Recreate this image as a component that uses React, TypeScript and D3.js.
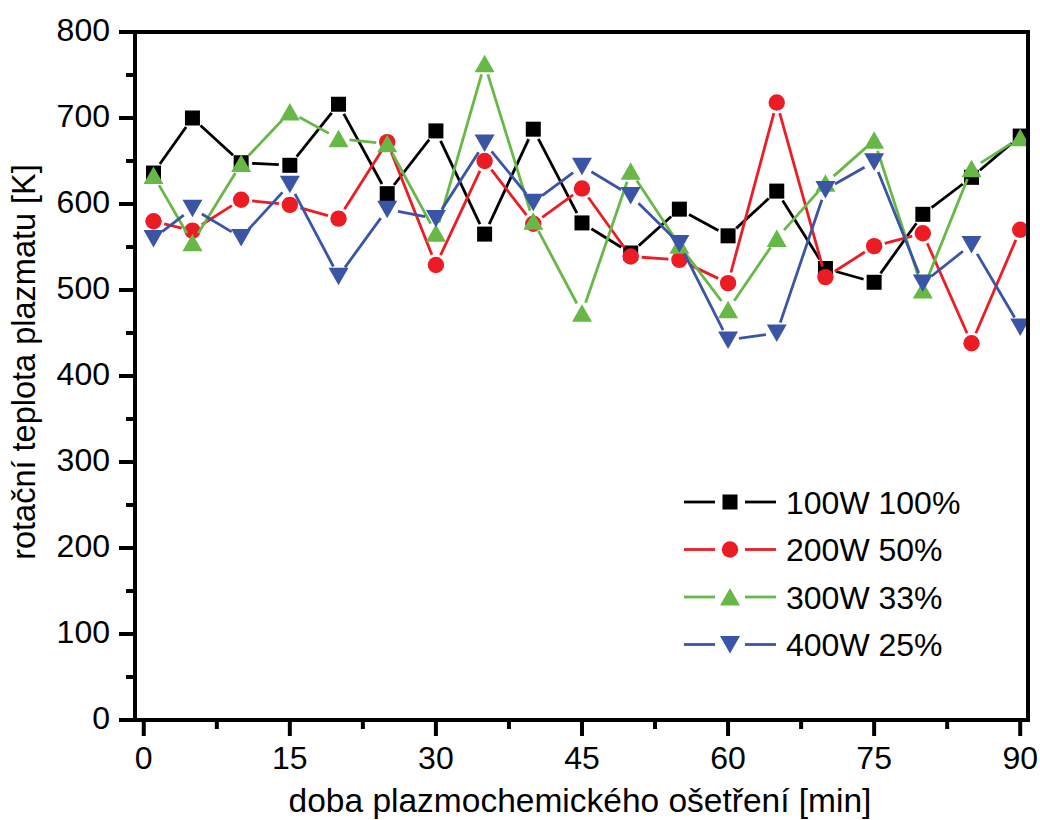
import React from "react";
import * as d3 from "d3";

const times = [1, 5, 10, 15, 20, 25, 30, 35, 40, 45, 50, 55, 60, 65, 70, 75, 80, 85, 90];
const s100W = [636, 700, 648, 645, 716, 612, 685, 565, 687, 578, 543, 594, 563, 615, 525, 509, 588, 631, 679];
const s200W = [580, 569, 605, 599, 583, 672, 529, 650, 577, 618, 539, 535, 508, 718, 515, 551, 566, 438, 570];
const s300W = [633, 555, 647, 707, 676, 670, 566, 763, 580, 473, 638, 552, 477, 560, 624, 674, 500, 641, 677];
const s400W = [560, 595, 561, 623, 516, 594, 583, 671, 602, 644, 610, 554, 442, 450, 617, 649, 508, 553, 457];
const seriesNames = ["100W 100%", "200W 50%", "300W 33%", "400W 25%"];
const xTicks = [0, 15, 30, 45, 60, 75, 90];
const xMinor = [7.5, 22.5, 37.5, 52.5, 67.5, 82.5];
const yTicks = [0, 100, 200, 300, 400, 500, 600, 700, 800];
const yMinor = [50, 150, 250, 350, 450, 550, 650, 750];
const xTitle = "doba plazmochemického ošetření [min]";
const yTitle = "rotační teplota plazmatu [K]";

const FONT = "'Liberation Sans', Arial, Helvetica, sans-serif";

const series = [
  { name: seriesNames[0], values: s100W, color: "#000000", shape: "square" },
  { name: seriesNames[1], values: s200W, color: "#ed1c24", shape: "circle" },
  { name: seriesNames[2], values: s300W, color: "#67b846", shape: "up" },
  { name: seriesNames[3], values: s400W, color: "#3a55a5", shape: "down" },
];

function Marker({ shape, x, y, color }: { shape: string; x: number; y: number; color: string }) {
  if (shape === "square") return <rect x={x - 7.5} y={y - 7.5} width={15} height={15} fill={color} />;
  if (shape === "circle") return <circle cx={x} cy={y} r={8.2} fill={color} />;
  if (shape === "up")
    return <path d={`M${x},${y - 9}L${x + 10},${y + 8.5}L${x - 10},${y + 8.5}Z`} fill={color} />;
  return <path d={`M${x},${y + 9}L${x + 10},${y - 8.5}L${x - 10},${y - 8.5}Z`} fill={color} />;
}

export default function App() {
  const left = 135, right = 1028, top = 32, bottom = 720;
  const x = d3.scaleLinear().domain([-0.9, 90.8]).range([left, right]);
  const y = d3.scaleLinear().domain([0, 800]).range([bottom, top]);
  const gap = 11;

  const segs = (vals: number[]) => {
    const out: { x1: number; y1: number; x2: number; y2: number }[] = [];
    for (let i = 0; i < vals.length - 1; i++) {
      const ax = x(times[i]), ay = y(vals[i]);
      const bx = x(times[i + 1]), by = y(vals[i + 1]);
      const dx = bx - ax, dy = by - ay;
      const len = Math.hypot(dx, dy);
      if (len <= 2 * gap) continue;
      const ux = dx / len, uy = dy / len;
      out.push({ x1: ax + ux * gap, y1: ay + uy * gap, x2: bx - ux * gap, y2: by - uy * gap });
    }
    return out;
  };

  const legendY = [502, 549.5, 597, 644.5];

  return (
    <svg
      width={1040}
      height={820}
      style={{ position: "absolute", left: 0, top: 0, background: "#fff" }}
      fontFamily={FONT}
    >
      <rect x={0} y={0} width={1040} height={820} fill="#fff" />
      {series.map((s) => (
        <g key={s.name}>
          {segs(s.values).map((g, i) => (
            <line key={i} x1={g.x1} y1={g.y1} x2={g.x2} y2={g.y2} stroke={s.color} strokeWidth={2.8} />
          ))}
          {s.values.map((v, i) => (
            <Marker key={i} shape={s.shape} x={x(times[i])} y={y(v)} color={s.color} />
          ))}
        </g>
      ))}
      <rect x={left} y={top} width={right - left} height={bottom - top} fill="none" stroke="#000" strokeWidth={4} />
      {yTicks.map((t) => (
        <g key={t}>
          <line x1={left - 16} x2={left} y1={y(t)} y2={y(t)} stroke="#000" strokeWidth={4} />
          <text x={110} y={y(t) + 9} textAnchor="end" fontSize={32} fill="#000">
            {t}
          </text>
        </g>
      ))}
      {yMinor.map((t) => (
        <line key={t} x1={left - 9} x2={left} y1={y(t)} y2={y(t)} stroke="#000" strokeWidth={4} />
      ))}
      {xTicks.map((t) => (
        <g key={t}>
          <line x1={x(t)} x2={x(t)} y1={bottom} y2={bottom + 16} stroke="#000" strokeWidth={4} />
          <text x={x(t)} y={769} textAnchor="middle" fontSize={32} fill="#000">
            {t}
          </text>
        </g>
      ))}
      {xMinor.map((t) => (
        <line key={t} x1={x(t)} x2={x(t)} y1={bottom} y2={bottom + 9} stroke="#000" strokeWidth={4} />
      ))}
      <text x={580} y={812} textAnchor="middle" fontSize={33.5} fill="#000">
        {xTitle}
      </text>
      <text transform="translate(35,362) rotate(-90)" textAnchor="middle" fontSize={32.5} fill="#000">
        {yTitle}
      </text>
      {series.map((s, i) => (
        <g key={s.name}>
          <line x1={684} x2={715} y1={legendY[i]} y2={legendY[i]} stroke={s.color} strokeWidth={2.8} />
          <line x1={745} x2={776} y1={legendY[i]} y2={legendY[i]} stroke={s.color} strokeWidth={2.8} />
          <Marker shape={s.shape} x={730} y={legendY[i]} color={s.color} />
          <text x={786} y={legendY[i] + 11.5} fontSize={32} fill="#000">
            {s.name}
          </text>
        </g>
      ))}
    </svg>
  );
}
